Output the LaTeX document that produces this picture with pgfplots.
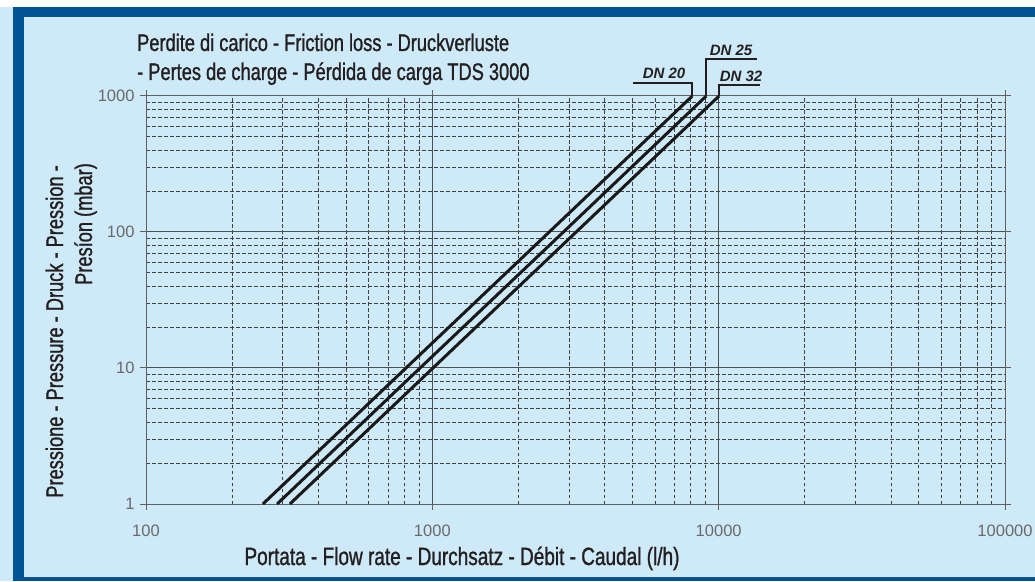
\documentclass[border=0pt]{standalone}
\usepackage{fontspec}
\setmainfont{Liberation Sans}
\newfontfamily\condfont[FakeStretch=0.76, FakeBold=1.1]{Liberation Sans}
\usepackage{pgfplots}
\pgfplotsset{compat=1.18}
\definecolor{frameblue}{RGB}{0,84,150}
\definecolor{bgblue}{RGB}{206,234,249}
\definecolor{txt}{RGB}{35,31,32}
\definecolor{ticktxt}{RGB}{105,105,105}
\definecolor{gridc}{RGB}{80,80,80}

\pgfplotstableread{
x y
256 1
809 10
2560 100
8090 1000
}\dnA
\pgfplotstableread{
x y
287 1
906 10
2870 100
9050 1000
}\dnB
\pgfplotstableread{
x y
318 1
1005 10
3180 100
10030 1000
}\dnC

\begin{document}
\begin{tikzpicture}[x=1pt,y=1pt]
\useasboundingbox (0,0) rectangle (1035,581);
\fill[white] (0,0) rectangle (1035,581);
\fill[bgblue] (0,0) rectangle (1035,574);
\fill[frameblue] (13,0) rectangle (1035,574);
\fill[bgblue] (24,4) rectangle (1035,564);

\begin{axis}[
  at={(146pt,77pt)}, anchor=south west,
  scale only axis, width=859pt, height=408pt,
  xmode=log, ymode=log,
  xmin=100, xmax=100000, ymin=1, ymax=1000,
  xtick={100,1000,10000,100000},
  xticklabels={100,1000,10000,100000},
  ytick={1,10,100,1000},
  yticklabels={1,10,100,1000},
  minor xtick={200,300,400,500,600,700,800,900,2000,3000,4000,5000,6000,7000,8000,9000,20000,30000,40000,50000,60000,70000,80000,90000},
  minor ytick={2,3,4,5,6,7,8,9,20,30,40,50,60,70,80,90,200,300,400,500,600,700,800,900},
  grid=both,
  major grid style={draw=gridc, line width=1pt, solid},
  minor grid style={draw=black!75, line width=0.9pt, dash pattern=on 3.5pt off 2.5pt},
  axis line style={draw=gray!75!black, line width=1pt},
  tick align=outside,
  major tick length=6pt, minor tick length=0pt,
  tick style={draw=gray!75!black, line width=1pt},
  ticklabel style={font=\fontsize{16.5}{18}\selectfont, text=ticktxt},
  xticklabel style={yshift=-11pt},
  yticklabel style={xshift=-2pt},
]
\addplot[black!90, line width=3pt, no markers] table[x=x,y=y] {\dnA};
\addplot[black!90, line width=3pt, no markers] table[x=x,y=y] {\dnB};
\addplot[black!90, line width=3pt, no markers] table[x=x,y=y] {\dnC};
\end{axis}

% DN labels with leader lines
\draw[txt, line width=1.2pt] (633,498) -- (692,498) -- (692,485);
\draw[txt, line width=1.2pt] (706,485) -- (706,522) -- (757,522);
\draw[txt, line width=1.2pt] (719,485) -- (719,496) -- (760,496);
\node[anchor=base, inner sep=0, font=\fontsize{15}{18}\selectfont\bfseries\itshape, text=txt] at (664,502) {DN 20};
\node[anchor=base, inner sep=0, font=\fontsize{15}{18}\selectfont\bfseries\itshape, text=txt] at (731,525) {DN 25};
\node[anchor=base, inner sep=0, font=\fontsize{15}{18}\selectfont\bfseries\itshape, text=txt] at (741,499) {DN 32};

% title
\node[anchor=base west, inner sep=0, font=\condfont\fontsize{24}{28}\selectfont, text=txt] at (137,530) {Perdite di carico - Friction loss - Druckverluste};
\node[anchor=base west, inner sep=0, font=\condfont\fontsize{24}{28}\selectfont, text=txt] at (137,501) {- Pertes de charge - Pérdida de carga TDS 3000};

% axis labels
\node[anchor=base, inner sep=0, font=\condfont\fontsize{25}{28}\selectfont, text=txt] at (462,16) {Portata - Flow rate - Durchsatz - Débit - Caudal (l/h)};
\node[rotate=90, anchor=base east, inner sep=0, font=\condfont\fontsize{24}{28}\selectfont, text=txt] at (63,416) {Pressione - Pressure - Druck - Pression -};
\node[rotate=90, anchor=base east, inner sep=0, font=\condfont\fontsize{24}{28}\selectfont, text=txt] at (92,418) {Presíon (mbar)};
\end{tikzpicture}
\end{document}
